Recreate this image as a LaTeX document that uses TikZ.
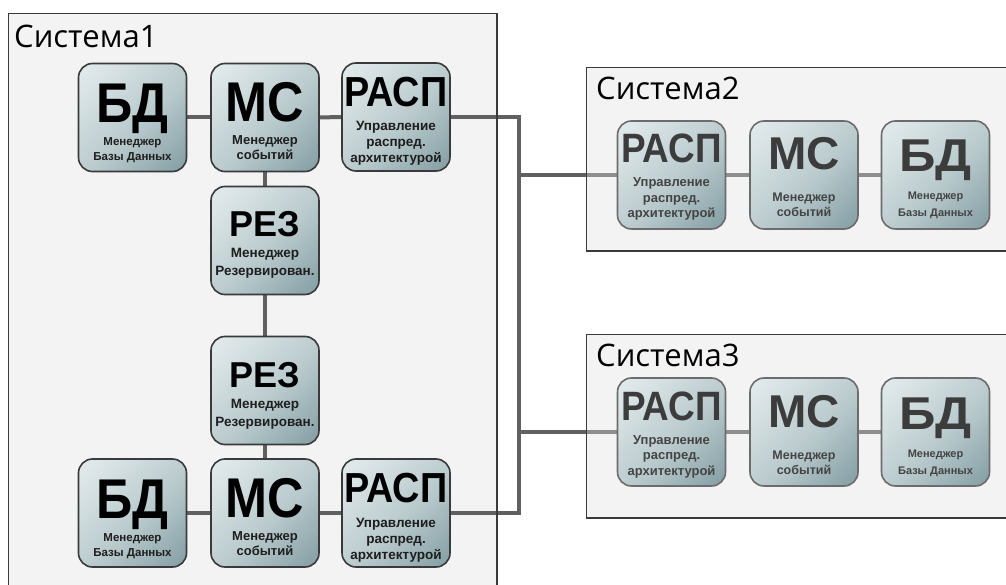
\documentclass[tikz,border=0pt]{standalone}
\usepackage{fontspec}
\usepackage{graphicx}
\setmainfont{Liberation Sans}
\newfontfamily\paneltitlefont{Open Sans}
\usetikzlibrary{calc}

\definecolor{panelfill}{HTML}{F3F3F3}
\definecolor{panelline}{HTML}{3A3A3A}
\definecolor{wiredark}{HTML}{606060}
\definecolor{wirepale}{HTML}{8E8E8E}
\definecolor{ulight}{HTML}{EEF3F4}
\definecolor{usoft}{HTML}{DAE4E6}
\definecolor{umid}{HTML}{B8C9CC}
\definecolor{ushade}{HTML}{88A2A7}
\definecolor{udark}{HTML}{5A7A80}
\definecolor{unitedge}{HTML}{3A3A3A}
\definecolor{unitedgepale}{HTML}{6C6C6C}
\definecolor{subink}{HTML}{1E1E1E}
\definecolor{headpale}{HTML}{3C3C3C}
\definecolor{subpale}{HTML}{444444}

% diagonal fill of the unit boxes: light most of the way, dark only in one corner
\pgfdeclareverticalshading{unitfill}{100bp}{color(0bp)=(udark); color(18bp)=(ushade);
  color(45bp)=(umid); color(75bp)=(usoft); color(100bp)=(ulight)}

\pgfdeclarelayer{panels}
\pgfdeclarelayer{wires}
\pgfsetlayers{panels,wires,main}

\tikzset{
  panel/.style={fill=panelfill, draw=none, inner sep=0pt, anchor=north west},
  panelrule/.style={draw=panelline, line width=1.3pt},
  wire/.style={draw=wiredark, line width=4pt},
  wirelite/.style={draw=wirepale, line width=4pt},
  unitbox/.style={rounded corners=14pt, minimum width=108pt, minimum height=108pt,
    inner sep=0pt, draw=unitedge, line width=1.6pt,
    shading=unitfill, shading angle=45},
  headtxt/.style={anchor=base, inner sep=0pt, text=black},
  subtxt/.style={anchor=base, inner sep=0pt, text=subink},
  titletxt/.style={anchor=base west, inner sep=0pt,
    font=\paneltitlefont\fontsize{31}{31}\selectfont},
}

% #1 name, #2 centre, #3 heading, #4 heading size, #5 heading baseline offset,
% #6 caption lines, #7 caption size, #8 first caption offset, #9 caption line skip
\newcommand\putunit[9]{%
  \node[unitbox] (#1) at (#2) {};
  \node[headtxt, font=\fontsize{#4}{#4}\selectfont\bfseries]
    (#1-h) at ([yshift={-1*(#5)*1pt}]#1.center) {#3};
  \foreach \ln [count=\k] in {#6}{
    \node[subtxt, font=\fontsize{#7}{#7}\selectfont\bfseries]
      (#1-s\k) at ([yshift={-1*((#8)+(\k-1)*(#9))*1pt}]#1.center) {\ln};
  }%
}

\begin{document}
\begin{tikzpicture}[x=1pt, y=-1pt]
\useasboundingbox (0,0) rectangle (1006,585);

% panels
\begin{pgfonlayer}{panels}
  \fill[white] (0,0) rectangle (1006,585);
  \node[panel, minimum width=488pt, minimum height=590pt] (sys1) at (8.5,13.5) {};
  \node[panel, minimum width=440pt, minimum height=183pt] (sys2) at (586.5,67.5) {};
  \node[panel, minimum width=440pt, minimum height=183pt] (sys3) at (586.5,334.5) {};
\end{pgfonlayer}

\node[titletxt] (sys1-title) at (14,48) {Система1};
\node[titletxt] (sys2-title) at (596,100) {Система2};
\node[titletxt] (sys3-title) at (596,366) {Система3};

% system 1
\putunit{s1bd}{132.5,117.5}{\scalebox{.9}[1]{БД}}{56}{5.5}{Менеджер,Базы Данных}{11.5}{28.5}{15}
\putunit{s1ms}{265,117.5}{\scalebox{.9}[1]{МС}}{56}{4.5}{Менеджер,событий}{13}{27.5}{15}
\putunit{s1ra}{396,117}{\scalebox{.9}[1]{РАСП}}{42}{-10.5}{Управление,распред.,архитектурой}{13.5}{14}{16}
\putunit{s1rz1}{265,240.5}{РЕЗ}{36}{-3.5}{Менеджер,Резервирован.}{13.5}{17.5}{18}
\putunit{s1rz2}{265,390.5}{РЕЗ}{36}{-3.5}{Менеджер,Резервирован.}{13.5}{17.5}{18}
\putunit{s1bd2}{132.5,513}{\scalebox{.9}[1]{БД}}{56}{5.5}{Менеджер,Базы Данных}{11.5}{28.5}{15}
\putunit{s1ms2}{265,513}{\scalebox{.9}[1]{МС}}{56}{4.5}{Менеджер,событий}{13}{27.5}{15}
\putunit{s1ra2}{396,513}{\scalebox{.9}[1]{РАСП}}{42}{-10.5}{Управление,распред.,архитектурой}{13.5}{14}{16}

% systems 2 and 3
\begin{scope}[unitbox/.append style={draw=unitedgepale},
  headtxt/.append style={text=headpale}, subtxt/.append style={text=subpale}]
\putunit{s2ra}{671.5,175}{\scalebox{.9}[1]{РАСП}}{41}{-12}{Управление,распред.,архитектурой}{13}{12}{15.5}
\putunit{s2ms}{804,175}{МС}{46}{-5}{Менеджер,событий}{12.5}{27}{15}
\putunit{s2bd}{935.5,175}{\scalebox{1.1}[1]{БД}}{46}{-3}{Менеджер,Базы Данных}{11}{25}{17}
\putunit{s3ra}{671.5,432}{\scalebox{.9}[1]{РАСП}}{41}{-12}{Управление,распред.,архитектурой}{13}{12}{15.5}
\putunit{s3ms}{804,432}{МС}{46}{-5}{Менеджер,событий}{12.5}{27}{15}
\putunit{s3bd}{935.5,432}{\scalebox{1.1}[1]{БД}}{46}{-3}{Менеджер,Базы Данных}{11}{25}{17}
\end{scope}

% connectors
\begin{pgfonlayer}{wires}
  \coordinate (busN) at (519,117);
  \coordinate (busS) at (519,513);
  \draw[wire] (s1bd) -- (s1ms);
  \draw[wire] (s1ms) -- (s1ra);
  \draw[wire] (s1ms) -- (s1rz1);
  \draw[wire] (s1rz1) -- (s1rz2);
  \draw[wire] (s1rz2) -- (s1ms2);
  \draw[wire] (s1bd2) -- (s1ms2);
  \draw[wire] (s1ms2) -- (s1ra2);
  \draw[wire] (s1ra) -- (busN) -- (busS) -- (s1ra2);
  \draw[wire] (busN |- s2ra) -- (sys2.west |- s2ra);
  \draw[wire] (busN |- s3ra) -- (sys3.west |- s3ra);
  \draw[wirelite] (sys2.west |- s2ra) -- (s2ra);
  \draw[wirelite] (sys3.west |- s3ra) -- (s3ra);
  \draw[wirelite] (s2ra) -- (s2ms);
  \draw[wirelite] (s2ms) -- (s2bd);
  \draw[wirelite] (s3ra) -- (s3ms);
  \draw[wirelite] (s3ms) -- (s3bd);
  % panel outlines over the connectors
  \draw[panelrule] (sys1.north west) rectangle (sys1.south east);
  \draw[panelrule] (sys2.north west) rectangle (sys2.south east);
  \draw[panelrule] (sys3.north west) rectangle (sys3.south east);
\end{pgfonlayer}
\end{tikzpicture}
\end{document}
